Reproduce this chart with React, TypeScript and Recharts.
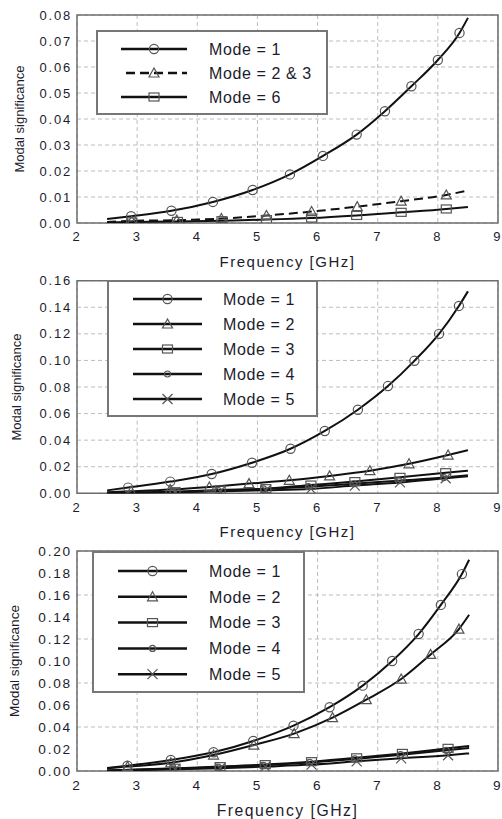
import { LineChart, Line, XAxis, YAxis, CartesianGrid, ReferenceArea } from 'recharts';

type Shape = 'circle' | 'triangle' | 'square' | 'dot' | 'cross';

// x ticks shared by all three panels
const freqTicks = [2, 3, 4, 5, 6, 7, 8, 9];

// panel 1
const p1Ticks = [0, 0.01, 0.02, 0.03, 0.04, 0.05, 0.06, 0.07, 0.08];
const p1Mode1F = [2.5, 2.9, 3.57, 4.26, 4.92, 5.54, 6.09, 6.65, 7.12, 7.56, 8.0, 8.36, 8.5];
const p1Mode1V = [0.0015, 0.0026, 0.0047, 0.0081, 0.0127, 0.0187, 0.0258, 0.034, 0.043, 0.0526, 0.0627, 0.0731, 0.0789];
const p1Mode23F = [2.5, 2.91, 3.66, 4.4, 5.15, 5.9, 6.66, 7.39, 8.14, 8.5];
const p1Mode23V = [0.0004, 0.0008, 0.0011, 0.0017, 0.0029, 0.0044, 0.0063, 0.0084, 0.0108, 0.0125];
const p1Mode6F = [2.5, 2.91, 3.67, 4.41, 5.15, 5.9, 6.65, 7.39, 8.14, 8.5];
const p1Mode6V = [0.0002, 0.0004, 0.0006, 0.0009, 0.0013, 0.0019, 0.0029, 0.0041, 0.0054, 0.0062];

// panel 2
const p2Ticks = [0, 0.02, 0.04, 0.06, 0.08, 0.1, 0.12, 0.14, 0.16];
const p2Mode1F = [2.5, 2.85, 3.55, 4.24, 4.91, 5.55, 6.12, 6.67, 7.17, 7.61, 8.02, 8.35, 8.5];
const p2Mode1V = [0.0022, 0.0043, 0.0088, 0.0145, 0.023, 0.0335, 0.0469, 0.0629, 0.0807, 0.0997, 0.12, 0.141, 0.152];
const p2Mode2F = [2.5, 2.9, 3.55, 4.2, 4.86, 5.53, 6.2, 6.87, 7.52, 8.17, 8.5];
const p2Mode2V = [0.0008, 0.0015, 0.0028, 0.0048, 0.0073, 0.0098, 0.0131, 0.017, 0.0222, 0.0288, 0.0325];
const p2Mode3F = [2.5, 3.63, 4.38, 5.14, 5.89, 6.62, 7.37, 8.13, 8.5];
const p2Mode3V = [0.0003, 0.0012, 0.0025, 0.0035, 0.0062, 0.0088, 0.012, 0.0155, 0.017];
const p2Mode4F = [2.5, 3.6, 4.35, 5.1, 5.85, 6.6, 7.35, 8.1, 8.5];
const p2Mode4V = [0.0002, 0.001, 0.002, 0.0033, 0.005, 0.0072, 0.0095, 0.0118, 0.0135];
const p2Mode5F = [2.5, 3.63, 4.38, 5.14, 5.89, 6.62, 7.37, 8.13, 8.5];
const p2Mode5V = [0.0001, 0.0008, 0.0015, 0.0023, 0.0033, 0.0058, 0.0082, 0.0113, 0.0128];

// panel 3
const p3Ticks = [0, 0.02, 0.04, 0.06, 0.08, 0.1, 0.12, 0.14, 0.16, 0.18, 0.2];
const p3Mode1F = [2.5, 2.84, 3.56, 4.27, 4.93, 5.6, 6.2, 6.75, 7.24, 7.68, 8.05, 8.4, 8.52];
const p3Mode1V = [0.0028, 0.0048, 0.01, 0.017, 0.0273, 0.0412, 0.058, 0.0776, 0.1, 0.1245, 0.151, 0.179, 0.192];
const p3Mode2F = [2.5, 2.84, 3.56, 4.27, 4.94, 5.61, 6.25, 6.81, 7.39, 7.88, 8.35, 8.52];
const p3Mode2V = [0.0025, 0.004, 0.0075, 0.0145, 0.0236, 0.034, 0.0485, 0.0648, 0.0836, 0.106, 0.129, 0.142];
const p3Mode3F = [2.5, 3.63, 4.38, 5.13, 5.9, 6.65, 7.41, 8.17, 8.52];
const p3Mode3V = [0.0005, 0.0025, 0.004, 0.0058, 0.0085, 0.012, 0.016, 0.0206, 0.0227];
const p3Mode4F = [2.5, 3.6, 4.35, 5.1, 5.87, 6.62, 7.38, 8.14, 8.52];
const p3Mode4V = [0.0004, 0.002, 0.0035, 0.0052, 0.0078, 0.011, 0.0148, 0.0188, 0.021];
const p3Mode5F = [2.5, 3.63, 4.38, 5.13, 5.9, 6.65, 7.39, 8.17, 8.52];
const p3Mode5V = [0.0003, 0.0015, 0.0025, 0.004, 0.0058, 0.0088, 0.0115, 0.0143, 0.016];

const FONT = 'Arial, "Liberation Sans", Helvetica, sans-serif';
const INK = '#1c1c2c';

interface Series {
  name: string;
  shape: Shape;
  dashed?: boolean;
  f: number[];
  v: number[];
}

interface PanelCfg {
  top: number;
  height: number;
  plotTop: number;
  plotBottom: number;
  labelY: number;
  yLabelX: number;
  yMax: number;
  yTicks: number[];
  scale: number;
  series: Series[];
  legend: { left: number; top: number; w: number; h: number; firstRow: number; step: number; lineFrom: number; lineTo: number; textX: number };
}

const panels: PanelCfg[] = [
  {
    top: 0, height: 270, plotTop: 15, plotBottom: 223, labelY: 261, yLabelX: 19,
    yMax: 0.08, yTicks: p1Ticks, scale: 1,
    series: [
      { name: 'Mode = 1', shape: 'circle', f: p1Mode1F, v: p1Mode1V },
      { name: 'Mode = 2 & 3', shape: 'triangle', dashed: true, f: p1Mode23F, v: p1Mode23V },
      { name: 'Mode = 6', shape: 'square', f: p1Mode6F, v: p1Mode6V },
    ],
    legend: { left: 96, top: 30, w: 232, h: 85, firstRow: 49, step: 24, lineFrom: 121, lineTo: 187, textX: 209 },
  },
  {
    top: 270, height: 273, plotTop: 280.7, plotBottom: 493.3, labelY: 531, yLabelX: 16,
    yMax: 0.16, yTicks: p2Ticks, scale: 1,
    series: [
      { name: 'Mode = 1', shape: 'circle', f: p2Mode1F, v: p2Mode1V },
      { name: 'Mode = 2', shape: 'triangle', f: p2Mode2F, v: p2Mode2V },
      { name: 'Mode = 3', shape: 'square', f: p2Mode3F, v: p2Mode3V },
      { name: 'Mode = 4', shape: 'dot', f: p2Mode4F, v: p2Mode4V },
      { name: 'Mode = 5', shape: 'cross', f: p2Mode5F, v: p2Mode5V },
    ],
    legend: { left: 107, top: 280, w: 211, h: 137, firstRow: 299, step: 25, lineFrom: 133, lineTo: 202, textX: 223 },
  },
  {
    top: 543, height: 276, plotTop: 551, plotBottom: 771, labelY: 810, yLabelX: 14,
    yMax: 0.2, yTicks: p3Ticks, scale: 1.05,
    series: [
      { name: 'Mode = 1', shape: 'circle', f: p3Mode1F, v: p3Mode1V },
      { name: 'Mode = 2', shape: 'triangle', f: p3Mode2F, v: p3Mode2V },
      { name: 'Mode = 3', shape: 'square', f: p3Mode3F, v: p3Mode3V },
      { name: 'Mode = 4', shape: 'dot', f: p3Mode4F, v: p3Mode4V },
      { name: 'Mode = 5', shape: 'cross', f: p3Mode5F, v: p3Mode5V },
    ],
    legend: { left: 92, top: 551, w: 213, h: 142, firstRow: 571, step: 25.8, lineFrom: 118, lineTo: 187, textX: 209 },
  },
];

function Marker({ shape, cx, cy }: { shape: Shape; cx: number; cy: number }) {
  const st = { fill: 'none', stroke: '#555', strokeWidth: 1.2 };
  switch (shape) {
    case 'circle':
      return <circle cx={cx} cy={cy} r={4.6} {...st} />;
    case 'triangle':
      return <polygon points={`${cx},${cy - 5} ${cx - 5},${cy + 4} ${cx + 5},${cy + 4}`} {...st} />;
    case 'square':
      return <rect x={cx - 5} y={cy - 4} width={10} height={8} {...st} />;
    case 'dot':
      return <circle cx={cx} cy={cy} r={3} {...st} />;
    default:
      return (
        <g {...st}>
          <line x1={cx - 5} y1={cy - 5} x2={cx + 5} y2={cy + 5} />
          <line x1={cx - 5} y1={cy + 5} x2={cx + 5} y2={cy - 5} />
        </g>
      );
  }
}

function LegendBox({ cfg }: { cfg: PanelCfg }) {
  const lg = cfg.legend;
  return (
    <svg
      width={lg.w}
      height={lg.h}
      style={{ position: 'absolute', left: lg.left, top: lg.top - cfg.top, background: '#fff' }}
    >
      <rect x={1} y={1} width={lg.w - 2} height={lg.h - 2} fill="#fff" stroke="#777" strokeWidth={2} />
      {cfg.series.map((s, i) => {
        const y = lg.firstRow + i * lg.step - lg.top;
        const x1 = lg.lineFrom - lg.left;
        const x2 = lg.lineTo - lg.left;
        return (
          <g key={s.name}>
            <line
              x1={s.dashed ? x1 + 5 : x1}
              y1={y}
              x2={x2}
              y2={y}
              stroke="#111"
              strokeWidth={2.5}
              strokeDasharray={s.dashed ? '9 5' : undefined}
            />
            <Marker shape={s.shape} cx={(x1 + x2) / 2} cy={y} />
            <text
              x={lg.textX - lg.left}
              y={y}
              dy="0.36em"
              fill={INK}
              fontFamily={FONT}
              fontSize={16}
              letterSpacing={0.6}
            >
              {s.name}
            </text>
          </g>
        );
      })}
    </svg>
  );
}

function Panel({ cfg }: { cfg: PanelCfg }) {
  const xAxisHeight = cfg.top + cfg.height - cfg.plotBottom;
  const labelOffset = cfg.top + cfg.height - (cfg.labelY + 5.5);
  const tickFont = 13 * cfg.scale;
  return (
    <div style={{ position: 'absolute', left: 0, top: cfg.top, width: 502, height: cfg.height }}>
      <LineChart
        width={502}
        height={cfg.height}
        margin={{ top: cfg.plotTop - cfg.top, right: 4, bottom: 0, left: 0 }}
      >
        <CartesianGrid strokeDasharray="4 3" stroke="#bdbdbd" />
        <XAxis
          type="number"
          dataKey="f"
          domain={[2, 9]}
          ticks={freqTicks}
          allowDataOverflow
          axisLine={false}
          tickLine={false}
          tickSize={0}
          tickMargin={9}
          height={xAxisHeight}
          tick={{ fontSize: tickFont, fill: INK, fontFamily: FONT, letterSpacing: 1.8 }}
          label={{
            value: 'Frequency [GHz]',
            position: 'insideBottom',
            offset: labelOffset,
            style: { fontSize: 15 * cfg.scale, fill: INK, fontFamily: FONT, letterSpacing: 1.5 },
          }}
        />
        <YAxis
          type="number"
          domain={[0, cfg.yMax]}
          ticks={cfg.yTicks}
          allowDataOverflow
          axisLine={false}
          tickLine={false}
          tickSize={0}
          tickMargin={5}
          width={77}
          tickFormatter={(v: number) => v.toFixed(2)}
          tick={{ fontSize: tickFont, fill: INK, fontFamily: FONT, letterSpacing: 1.8 }}
          label={{
            value: 'Modal significance',
            angle: -90,
            position: 'insideLeft',
            offset: cfg.yLabelX,
            style: { textAnchor: 'middle', fontSize: 13 * cfg.scale, fill: INK, fontFamily: FONT },
          }}
        />
        <ReferenceArea
          x1={2}
          x2={9}
          y1={0}
          y2={cfg.yMax}
          fill="none"
          fillOpacity={0}
          stroke="#6e6e6e"
          strokeWidth={1.5}
          ifOverflow="visible"
        />
        {cfg.series.map((s) => {
          const data = s.f.map((f, i) => ({ f, v: s.v[i] }));
          const last = data.length - 1;
          return (
            <Line
              key={s.name}
              data={data}
              dataKey="v"
              type="monotone"
              stroke="#111"
              strokeWidth={2}
              strokeDasharray={s.dashed ? '9 5' : undefined}
              isAnimationActive={false}
              activeDot={false}
              dot={(p: any) =>
                p.index === 0 || p.index === last ? (
                  <g key={`d-${s.name}-${p.index}`} />
                ) : (
                  <Marker key={`d-${s.name}-${p.index}`} shape={s.shape} cx={p.cx} cy={p.cy} />
                )
              }
            />
          );
        })}
      </LineChart>
      <LegendBox cfg={cfg} />
    </div>
  );
}

export default function App() {
  return (
    <div style={{ position: 'relative', width: 502, height: 819, background: '#fff', overflow: 'hidden' }}>
      <style>{'body{margin:0}'}</style>
      {panels.map((p, i) => (
        <Panel key={i} cfg={p} />
      ))}
    </div>
  );
}
